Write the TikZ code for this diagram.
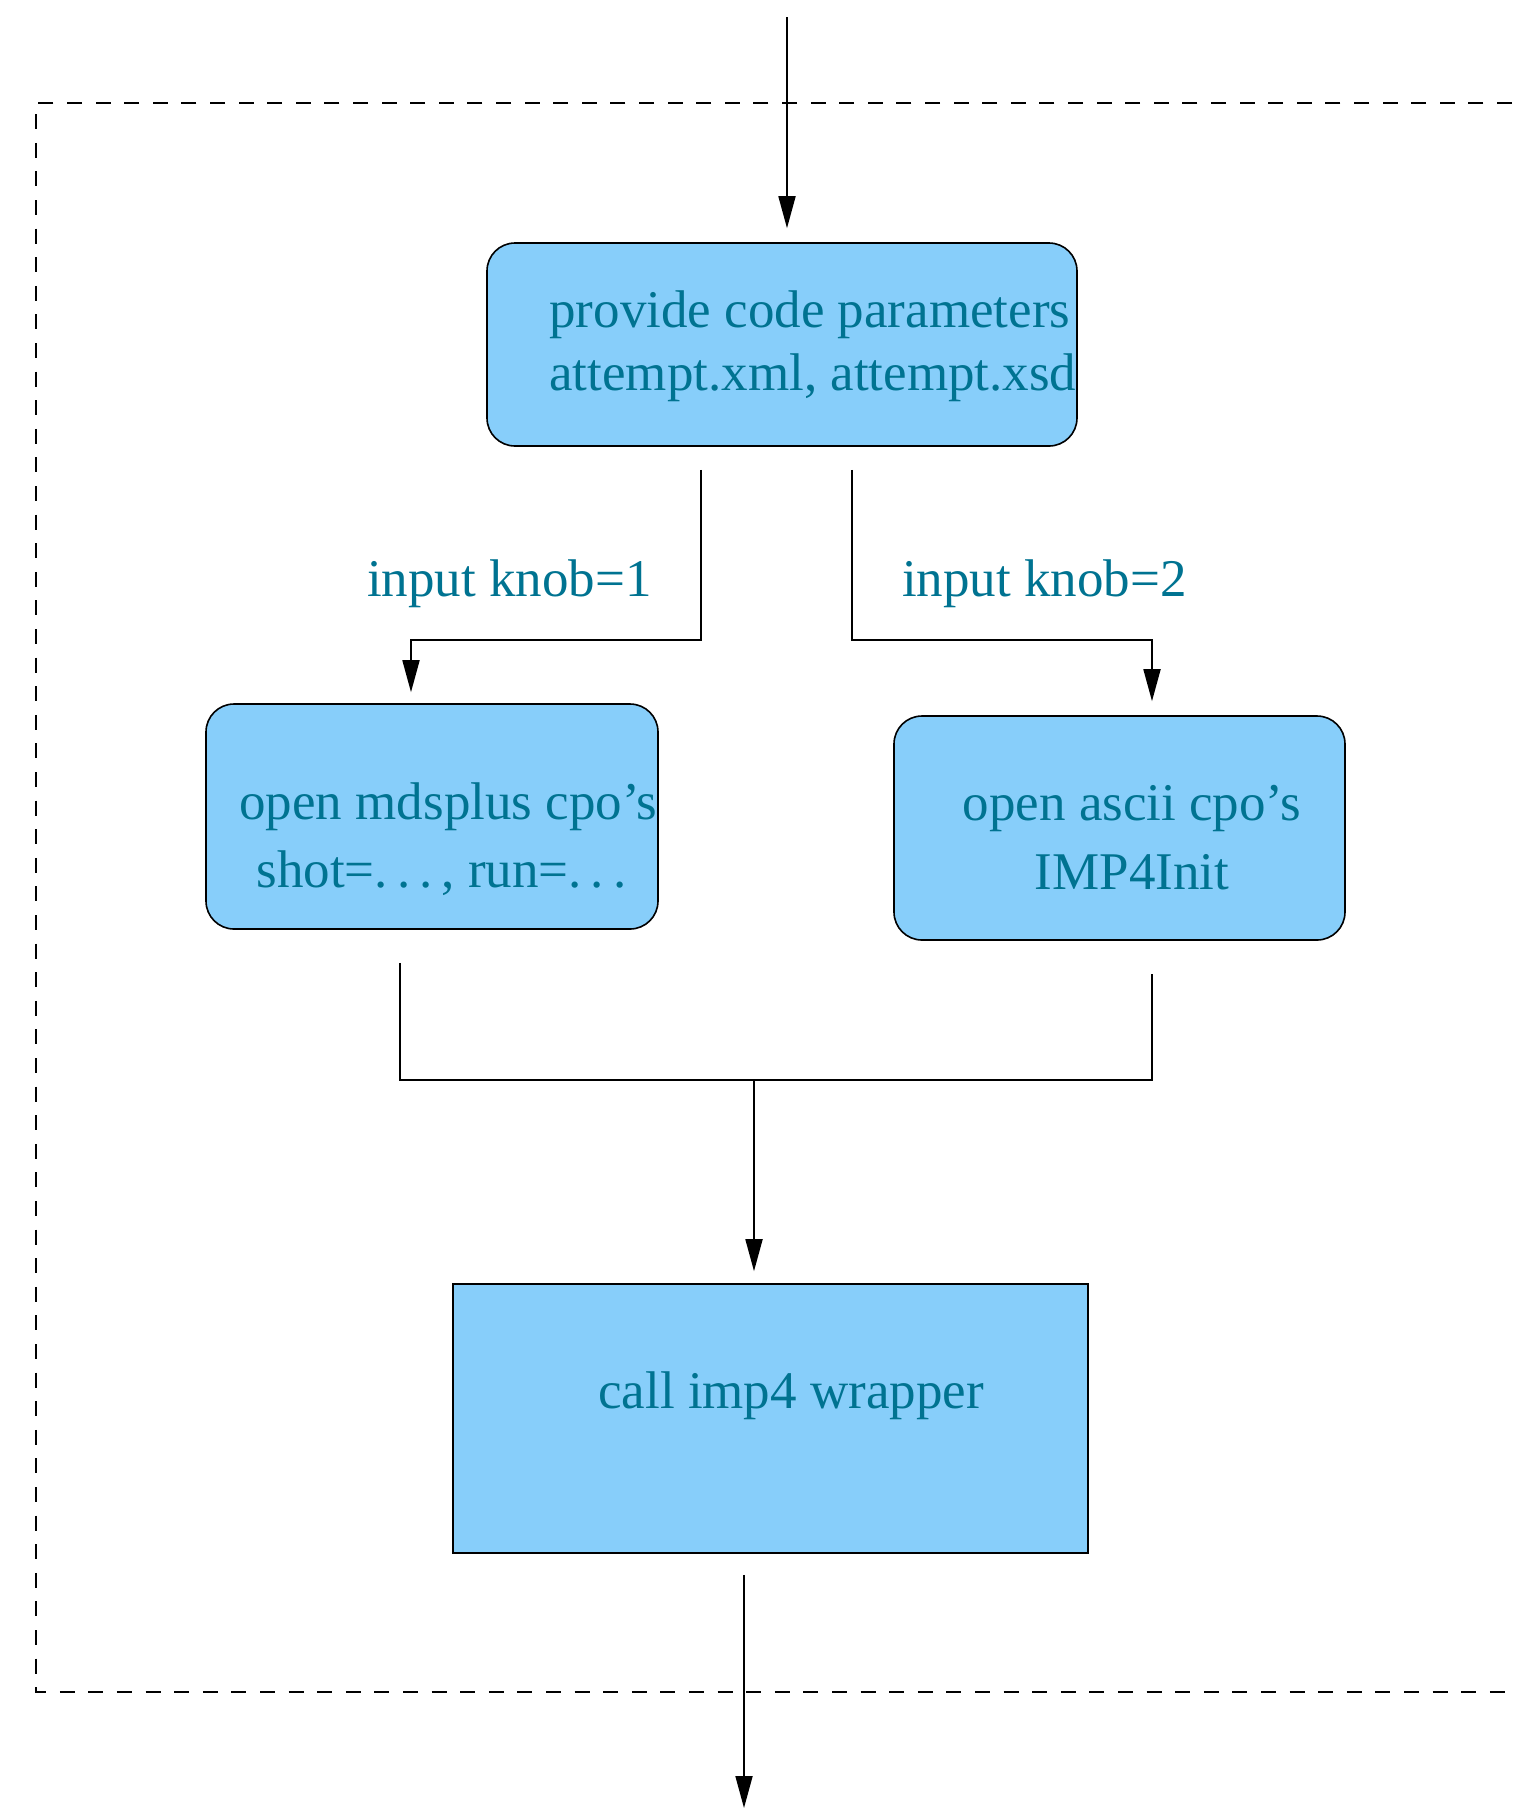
\documentclass[tikz,border=0pt]{standalone}
\usepackage{fontspec}
\setmainfont{Liberation Serif}
\usetikzlibrary{arrows.meta}
\definecolor{boxfill}{RGB}{135,206,250}
\definecolor{labeltext}{RGB}{0,115,145}
\newcommand{\spaceddots}{.\kern0.17em.\kern0.17em.\kern0.17em}
\tikzset{
  procbox/.style={draw=black, line width=0.8pt, fill=boxfill, inner sep=0pt},
  roundbox/.style={procbox, rounded corners=14pt},
  txt/.style={text=labeltext, font=\fontsize{26.5}{32}\selectfont, inner sep=0pt, anchor=base},
  conn/.style={draw=black, line width=0.9pt},
  arr/.style={conn, -{Triangle[length=16pt,width=8.5pt]}},
  frame/.style={draw=black, line width=0.9pt, dash pattern=on 7.5pt off 6.8pt}
}
\begin{document}
\begin{tikzpicture}[x=0.5pt,y=-0.5pt]
\useasboundingbox (0,0) rectangle (1512,1817);

% outer dashed frame (open to the right)
\draw[frame] (1512,103) -- (36,103) -- (36,1692) -- (1512,1692);

% boxes
\node[roundbox, minimum width=295pt, minimum height=101.5pt] (top) at (782,344.5) {};
\node[roundbox, minimum width=226pt, minimum height=112.5pt] (left) at (432,816.5) {};
\node[roundbox, minimum width=225.5pt, minimum height=112pt] (right) at (1119.5,828) {};
\node[procbox, minimum width=317.5pt, minimum height=134.5pt] (bottom) at (770.5,1418.5) {};

% box texts
\node[txt, anchor=base west] (topA) at (549,327) {provide code parameters};
\node[txt, anchor=base west] (topB) at (549,390) {attempt.xml, attempt.xsd};
\node[txt] (leftA) at (448.5,819) {open mdsplus cpo’s};
\node[txt] (leftB) at (446,887) {shot=\spaceddots, run=\spaceddots};
\node[txt] (rightA) at (1132,820) {open ascii cpo’s};
\node[txt] (rightB) at (1132,889) {IMP4Init};
\node[txt] (call) at (791,1408) {call imp4 wrapper};

% branch labels
\node[txt] (knobA) at (509.5,596) {input knob=1};
\node[txt] (knobB) at (1044.5,596) {input knob=2};

% routing points
\coordinate (in) at (787,17);
\coordinate (kL) at (701,640);
\coordinate (kR) at (852,640);
\coordinate (dL) at (411,640);
\coordinate (dR) at (1152,640);
\coordinate (jL) at (400,1080);
\coordinate (jR) at (1152,1080);
\coordinate (jM) at (754,1080);
\coordinate (out) at (744,1808);

% connectors
\draw[arr, shorten >=7pt] (in) -- (in |- top.north);
\draw[arr, shorten <=11.5pt, shorten >=5.5pt] (top.south -| kL) -- (kL) -- (dL) -- (left.north -| dL);
\draw[arr, shorten <=11.5pt, shorten >=7pt] (top.south -| kR) -- (kR) -- (dR) -- (right.north -| dR);
\draw[conn, shorten <=16.5pt, shorten >=16.5pt] (left.south -| jL) -- (jL) -- (jR) -- (right.south -| jR);
\draw[arr, shorten >=6pt] (jM) -- (bottom.north -| jM);
\draw[arr, shorten <=10.5pt] (bottom.south -| out) -- (out);
\end{tikzpicture}
\end{document}
